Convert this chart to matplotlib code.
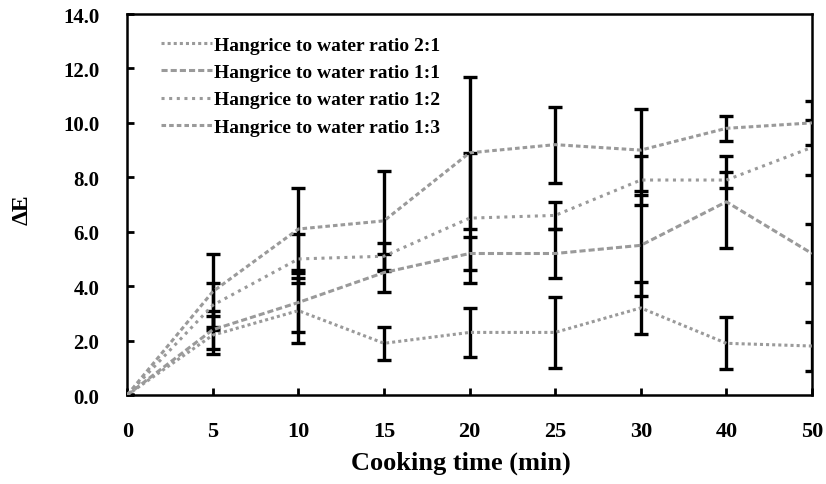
import numpy as np
import matplotlib
matplotlib.use('Agg')
import matplotlib.pyplot as plt

# cooking time categories (equally spaced on the chart)
times = ['0', '5', '10', '15', '20', '25', '30', '40', '50']

labels = ['Hangrice to water ratio 2:1', 'Hangrice to water ratio 1:1',
          'Hangrice to water ratio 1:2', 'Hangrice to water ratio 1:3']

de_21 = [0.0, 2.2, 3.1, 1.9, 2.3, 2.3, 3.2, 1.9, 1.8]
err_21 = [0.0, 0.7, 1.2, 0.6, 0.9, 1.3, 0.95, 0.95, 0.9]

de_11 = [0.0, 2.4, 3.4, 4.5, 5.2, 5.2, 5.5, 7.1, 5.2]
err_11 = [0.0, 0.7, 1.1, 0.7, 0.6, 0.9, 1.85, 1.7, 1.1]

de_12 = [0.0, 3.3, 5.0, 5.1, 6.5, 6.6, 7.9, 7.9, 9.1]
err_12 = [0.0, 0.8, 0.9, 0.5, 2.4, 0.5, 0.9, 0.3, 1.0]

de_13 = [0.0, 3.8, 6.1, 6.4, 8.9, 9.2, 9.0, 9.8, 10.0]
err_13 = [0.0, 1.4, 1.5, 1.85, 2.8, 1.4, 1.5, 0.45, 0.8]

series = [(de_21, err_21), (de_11, err_11), (de_12, err_12), (de_13, err_13)]
styles = [(0, (1, 1)), (0, (2, 1)), (0, (1, 1.5)), (0, (1.5, 1))]

plt.rcParams['font.family'] = ['Liberation Serif', 'DejaVu Serif']
plt.rcParams['font.weight'] = 'bold'

fig = plt.figure(figsize=(8.26, 4.85), dpi=100)
ax = fig.add_axes([0.154, 0.1835, 0.829, 0.7855])

x = np.arange(len(times))
for (vals, errs), lab, ls in zip(series, labels, styles):
    ax.errorbar(x, vals, yerr=errs, fmt='none', ecolor='black',
                elinewidth=2.4, capsize=5, capthick=2.4, zorder=2)
    ax.plot(x, vals, linestyle=ls, color='#9a9a9a', linewidth=2.2,
            label=lab, zorder=3)

ax.set_xlim(0, len(times) - 1)
ax.set_ylim(0, 14)
ax.set_xticks(x)
ax.set_xticklabels(times)
ax.set_yticks(np.arange(0, 14.1, 2))
ax.set_yticklabels(['%.1f' % v for v in np.arange(0, 14.1, 2)])
ax.tick_params(direction='in', length=5, width=2)
ax.tick_params(axis='x', labelsize=16, pad=19)
ax.tick_params(axis='y', labelsize=15, pad=20)
for s in ax.spines.values():
    s.set_linewidth(1.8)

ax.set_xlabel('Cooking time (min)', fontsize=19, fontweight='bold')
ax.xaxis.set_label_coords(0.488, -0.145)
ax.set_ylabel('ΔE', fontsize=17, fontweight='bold')
ax.yaxis.set_label_coords(-0.138, 0.49)

ax.legend(loc='upper left', bbox_to_anchor=(0.05, 0.942), frameon=False,
          fontsize=14, handlelength=2.6, labelspacing=0.5, handletextpad=0.1,
          borderaxespad=0, borderpad=0)

fig.savefig('out.png', dpi=100)
